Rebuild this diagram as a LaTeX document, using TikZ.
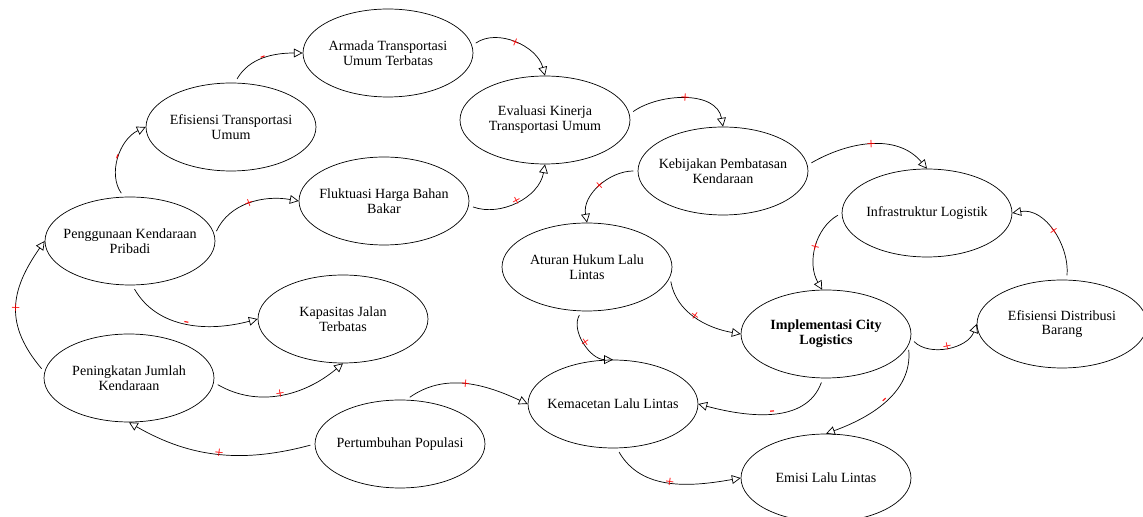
\documentclass[tikz,border=0pt]{standalone}
\usepackage{fontspec}
\setmainfont{Liberation Serif}
\usetikzlibrary{arrows.meta,shapes.geometric}

\begin{document}
\begin{tikzpicture}[x=0.02cm,y=0.02cm,
    var/.style={draw,ellipse,minimum width=3.4cm,minimum height=1.76cm,inner sep=0pt},
    every label/.style={align=center,font=\fontsize{8}{8.4}\selectfont},
    link/.style={-{Triangle[open,length=5pt,width=5pt]},shorten <=2.5pt},
    pol/.style={sloped,text=red,inner sep=0pt,font=\fontsize{9}{9}\selectfont}]
        \useasboundingbox (0,0) rectangle (1143,517);
        \node[var,label=center:{Armada Transportasi\\Umum Terbatas}] (arm) at (388,464) {};
        \node[var,label=center:{Efisiensi Transportasi\\Umum}] (eft) at (231,390) {};
        \node[var,label=center:{Fluktuasi Harga Bahan\\Bakar}] (flu) at (384,316) {};
        \node[var,label=center:{Penggunaan Kendaraan\\Pribadi}] (pkp) at (130,276) {};
        \node[var,label=center:{Kapasitas Jalan\\Terbatas}] (kap) at (343,198) {};
        \node[var,label=center:{Peningkatan Jumlah\\Kendaraan}] (pjk) at (129,139) {};
        \node[var,label=center:{Pertumbuhan Populasi}] (pop) at (400,73) {};
        \node[var,label=center:{Evaluasi Kinerja\\Transportasi Umum}] (eva) at (545,397) {};
        \node[var,label=center:{Kebijakan Pembatasan\\Kendaraan}] (keb) at (723,346) {};
        \node[var,label=center:{Aturan Hukum Lalu\\Lintas}] (atu) at (587,250) {};
        \node[var,label=center:{Infrastruktur Logistik}] (inf) at (927,304) {};
        \node[var,label={[font=\fontsize{8}{8.4}\selectfont\bfseries]center:Implementasi City\\Logistics}] (icl) at (826,183) {};
        \node[var,label=center:{Efisiensi Distribusi\\Barang}] (edb) at (1062,193) {};
        \node[var,label=center:{Kemacetan Lalu Lintas}] (kem) at (613,113) {};
        \node[var,label=center:{Emisi Lalu Lintas}] (emi) at (826,39) {};
        \draw[link] (pkp.98) to[out=125,in=205] node[pol]{-} (eft.180);
        \draw[link] (eft.85) to[out=60,in=180] node[pol]{-} (arm.180);
        \draw[link] (arm.5) to[out=35,in=105] node[pol]{+} (eva.90);
        \draw[link] (flu.-3) to[out=-20,in=-100] node[pol]{+} (eva.270);
        \draw[link] (pkp.4) to[out=65,in=170] node[pol]{+} (flu.180);
        \draw[link] (eva.4) to[out=35,in=100] node[pol]{+} (keb.90);
        \draw[link] (keb.180) to[out=180,in=100] node[pol]{+} (atu.90);
        \draw[link] (keb.4) to[out=30,in=130] node[pol]{+} (inf.90);
        \draw[link] (inf.180) to[out=210,in=120] node[pol]{+} (icl.95);
        \draw[link] (edb.84) to[out=85,in=10] node[pol]{+} (inf.0);
        \draw[link] (icl.-3) to[out=-45,in=-110] node[pol]{+} (edb.180);
        \draw[link] (icl.-8) to[out=-85,in=20] node[pol]{-} (emi.90);
        \draw[link] (icl.266) to[out=250,in=-15] node[pol]{-} (kem.0);
        \draw[link] (atu.-7) to[out=-80,in=170] node[pol]{+} (icl.180);
        \draw[link] (atu.263) to[out=240,in=180] node[pol]{+} (kem.90);
        \draw[link] (pop.82) to[out=35,in=155] node[pol]{+} (kem.180);
        \draw[link] (kem.-85) to[out=-60,in=190] node[pol]{+} (emi.180);
        \draw[link] (pop.180) to[out=195,in=-30] node[pol]{+} (pjk.270);
        \draw[link] (pjk.-3) to[out=-30,in=-140] node[pol]{+} (kap.270);
        \draw[link] (pkp.273) to[out=-60,in=195] node[pol]{-} (kap.180);
        \draw[link] (pjk.176) to[out=130,in=-125,looseness=1.2] node[pol]{+} (pkp.180);
\end{tikzpicture}
\end{document}
